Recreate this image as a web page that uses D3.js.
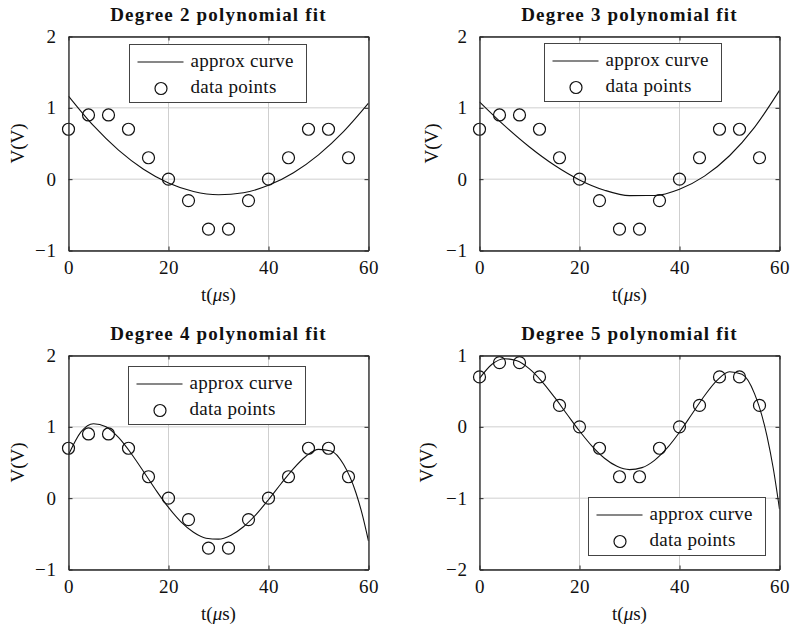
<!DOCTYPE html>
<html>
<head>
<meta charset="utf-8">
<script src="https://cdn.jsdelivr.net/npm/d3@7/dist/d3.min.js"></script>
<style>
  html, body { margin: 0; padding: 0; background: #fff; }
  svg { display: block; }
  text { font-family: "Liberation Serif", "Times New Roman", serif; fill: #111; }
</style>
</head>
<body>
<svg id="chart" width="794" height="628"></svg>
<script>
// Sampled voltage measurements
const sampleTimes = [0, 4, 8, 12, 16, 20, 24, 28, 32, 36, 40, 44, 48, 52, 56];
const sampleVolts = [0.7, 0.9, 0.9, 0.7, 0.3, 0, -0.3, -0.7, -0.7, -0.3, 0, 0.3, 0.7, 0.7, 0.3];

// Fitted curves, tabulated along t
const curveTimesLow = [0, 5, 10, 15, 20, 25, 30, 35, 40, 45, 50, 55, 60];
const fitDegree2 = [1.1647, 0.7491, 0.4075, 0.1399, -0.0535, -0.1730, -0.2183, -0.1896, -0.0868, 0.0900, 0.3409, 0.6658, 1.0648];
const fitDegree3 = [1.0846, 0.7505, 0.4509, 0.1944, -0.0104, -0.1549, -0.2305, -0.2285, -0.1405, 0.0422, 0.3282, 0.7260, 1.2443];

const curveTimesHigh = [0, 2.5, 5, 7.5, 10, 12.5, 15, 17.5, 20, 22.5, 25, 27.5, 30, 32.5, 35, 37.5, 40, 42.5, 45, 47.5, 50, 52.5, 55, 57.5, 58.75, 60];
const fitDegree4 = [0.6079, 0.9289, 1.0437, 1.0027, 0.8513, 0.6298, 0.3731, 0.1116, -0.1300, -0.3316, -0.4785, -0.5609, -0.5742, -0.5189, -0.4005, -0.2296, -0.0219, 0.2017, 0.4154, 0.5882, 0.6840, 0.6617, 0.4750, 0.0727, -0.2268, -0.6018];
const fitDegree5 = [0.6792, 0.8779, 0.9549, 0.9268, 0.8130, 0.6351, 0.4155, 0.1768, -0.0588, -0.2708, -0.4410, -0.5543, -0.5999, -0.5717, -0.4693, -0.2993, -0.0754, 0.1802, 0.4361, 0.6509, 0.7722, 0.7359, 0.4653, -0.1298, -0.5810, -1.1538];

// Panel titles and axes
const panelTitles = ["Degree 2 polynomial fit", "Degree 3 polynomial fit", "Degree 4 polynomial fit", "Degree 5 polynomial fit"];
const xTicks = [0, 20, 40, 60];
const yDomainsByPanel = [[-1, 2], [-1, 2], [-1, 2], [-2, 1]];
const yTicksByPanel = [[-1, 0, 1, 2], [-1, 0, 1, 2], [-1, 0, 1, 2], [-2, -1, 0, 1]];
const legendLabels = ["approx curve", "data points"];

const curveSets = [
  { t: curveTimesLow, v: fitDegree2 },
  { t: curveTimesLow, v: fitDegree3 },
  { t: curveTimesHigh, v: fitDegree4 },
  { t: curveTimesHigh, v: fitDegree5 }
];

// Panel placement and legend placement (legend: offset from plot box)
const layout = [
  { left: 68, top: 36, ylabelOff: 51, legend: { anchor: "top", dx: 61, dy: 8 } },
  { left: 479, top: 36, ylabelOff: 48, legend: { anchor: "top", dx: 65, dy: 7 } },
  { left: 68, top: 355, ylabelOff: 51, legend: { anchor: "top", dx: 60, dy: 11 } },
  { left: 479, top: 355, ylabelOff: 53, legend: { anchor: "bottom", dx: 109, dy: 14 } }
];
const plotW = 300, plotH = 214;
const legendW = 177, legendH = 58;

const svg = d3.select("#chart");
const fontSize = 19;

curveSets.forEach((cs, i) => {
  const L = layout[i];
  const g = svg.append("g").attr("transform", `translate(${L.left + 0.5},${L.top + 0.5})`);

  const x = d3.scaleLinear().domain([0, 60]).range([0, plotW]);
  const y = d3.scaleLinear().domain(yDomainsByPanel[i]).range([plotH, 0]);

  // Grid
  g.append("g").selectAll("line.gx").data(xTicks).join("line")
    .attr("x1", d => x(d)).attr("x2", d => x(d)).attr("y1", 0).attr("y2", plotH)
    .attr("stroke", "#cfcfcf").attr("stroke-width", 1);
  g.append("g").selectAll("line.gy").data(yTicksByPanel[i]).join("line")
    .attr("x1", 0).attr("x2", plotW).attr("y1", d => y(d)).attr("y2", d => y(d))
    .attr("stroke", "#cfcfcf").attr("stroke-width", 1);

  const clipId = "clip" + i;
  g.append("clipPath").attr("id", clipId).append("rect")
    .attr("x", 0).attr("y", 0).attr("width", plotW).attr("height", plotH);

  // Fitted curve
  const line = d3.line().x(d => x(d[0])).y(d => y(d[1])).curve(d3.curveMonotoneX);
  g.append("path")
    .datum(cs.t.map((t, k) => [t, cs.v[k]]))
    .attr("clip-path", `url(#${clipId})`)
    .attr("d", line)
    .attr("fill", "none").attr("stroke", "#111").attr("stroke-width", 1.1);

  // Data points
  g.append("g").selectAll("circle").data(sampleTimes.map((t, k) => [t, sampleVolts[k]])).join("circle")
    .attr("cx", d => x(d[0])).attr("cy", d => y(d[1])).attr("r", 6)
    .attr("fill", "none").attr("stroke", "#111").attr("stroke-width", 1.2);

  // Axes (box with inward ticks)
  const xAxisB = d3.axisBottom(x).tickValues(xTicks).tickSizeInner(-4).tickSizeOuter(0).tickPadding(10)
    .tickFormat(d3.format("d"));
  const xAxisT = d3.axisTop(x).tickValues(xTicks).tickSizeInner(-4).tickSizeOuter(0).tickFormat("");
  const fmtY = d => (d < 0 ? "\u2212" + Math.abs(d) : String(d));
  const yAxisL = d3.axisLeft(y).tickValues(yTicksByPanel[i]).tickSizeInner(-4).tickSizeOuter(0).tickPadding(12)
    .tickFormat(fmtY);
  const yAxisR = d3.axisRight(y).tickValues(yTicksByPanel[i]).tickSizeInner(-4).tickSizeOuter(0).tickFormat("");

  const styleAxis = sel => {
    sel.select(".domain").attr("stroke", "#262626").attr("stroke-width", 1.3);
    sel.selectAll(".tick line").attr("stroke", "#262626");
    sel.selectAll(".tick text").attr("fill", "#111").style("font-size", fontSize + "px")
      .style("letter-spacing", "0.6px")
      .style("font-family", '"Liberation Serif", serif');
  };
  g.append("g").attr("transform", `translate(0,${plotH})`).call(xAxisB).call(styleAxis);
  g.append("g").call(xAxisT).call(styleAxis);
  g.append("g").call(yAxisL).call(styleAxis);
  g.append("g").attr("transform", `translate(${plotW},0)`).call(yAxisR).call(styleAxis);

  // Title
  g.append("text").attr("x", plotW / 2).attr("y", -15.5).attr("text-anchor", "middle")
    .style("font-size", "19px").style("font-weight", "bold").style("letter-spacing", "1.2px")
    .text(panelTitles[i]);

  // Axis labels
  const xl = g.append("text").attr("x", plotW / 2).attr("y", plotH + 50).attr("text-anchor", "middle")
    .style("font-size", fontSize + "px");
  xl.append("tspan").text("t(");
  xl.append("tspan").style("font-style", "italic").text("\u03bc");
  xl.append("tspan").text("s)");

  g.append("text").attr("transform", `translate(${-L.ylabelOff},${plotH / 2}) rotate(-90)`)
    .attr("text-anchor", "middle").attr("dy", "0.35em")
    .style("font-size", fontSize + "px").text("V(V)");

  // Legend
  const lx = L.legend.dx;
  const ly = L.legend.anchor === "top" ? L.legend.dy : plotH - L.legend.dy - legendH;
  const lg = g.append("g").attr("transform", `translate(${lx},${ly})`);
  lg.append("rect").attr("width", legendW).attr("height", legendH)
    .attr("fill", "#fff").attr("stroke", "#444").attr("stroke-width", 1);
  lg.append("line").attr("x1", 8).attr("x2", 54).attr("y1", 17.5).attr("y2", 17.5)
    .attr("stroke", "#111").attr("stroke-width", 1.1);
  lg.append("circle").attr("cx", 31.5).attr("cy", 44).attr("r", 6)
    .attr("fill", "none").attr("stroke", "#111").attr("stroke-width", 1.2);
  lg.selectAll("text").data(legendLabels).join("text")
    .attr("x", 61).attr("y", (d, k) => k === 0 ? 22 : 48.5)
    .style("font-size", fontSize + "px").style("letter-spacing", "0.3px").text(d => d);
});
</script>
</body>
</html>
